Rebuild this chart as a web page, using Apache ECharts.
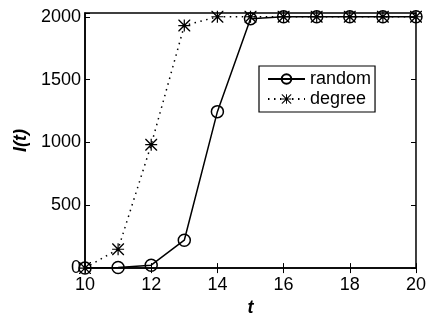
<!DOCTYPE html>
<html><head><meta charset="utf-8">
<script src="https://cdn.jsdelivr.net/npm/echarts@6/dist/echarts.min.js"></script>
<style>html,body{margin:0;padding:0;background:#fff}#c{width:429px;height:322px}</style>
</head><body><div id="c"></div>
<script>
const tValues = [10, 11, 12, 13, 14, 15, 16, 17, 18, 19, 20];
const randomValues = [0, 5, 23, 222, 1245, 1985, 2000, 2000, 2000, 2000, 2000];
const degreeValues = [0, 150, 982, 1930, 2000, 2000, 2000, 2000, 2000, 2000, 2000];
const seriesNames = ['random', 'degree'];

const star = 'path://M45 0L55 0L55 100L45 100Z M0 45L100 45L100 55L0 55Z M0 0L8 0L100 92L100 100L92 100L0 8Z M100 0L100 8L8 100L0 100L0 92L92 0Z';
const font = 'Liberation Sans, Arial, Helvetica, sans-serif';
const chart = echarts.init(document.getElementById('c'), null, {renderer: 'canvas'});
const pair = a => tValues.map((t, i) => [t, a[i]]);
const tickStyle = {show: true, inside: true, length: 5, lineStyle: {color: '#000', width: 1}};
chart.setOption({
  animation: false,
  backgroundColor: '#fff',
  grid: {left: 85, top: 13, right: 6, bottom: 45, show: true, borderColor: '#000', borderWidth: 1.5, backgroundColor: 'transparent'},
  legend: {
    orient: 'vertical', left: 259, top: 66, padding: [4, 4, 4, 8], itemGap: 2,
    borderColor: '#000', borderWidth: 1.2, backgroundColor: '#fff',
    itemWidth: 37, itemHeight: 12,
    textStyle: {fontFamily: font, fontSize: 18, color: '#000'},
    data: seriesNames
  },
  xAxis: [{
    type: 'value', min: 10, max: 20, interval: 2, position: 'bottom',
    name: 't', nameLocation: 'middle', nameGap: 24,
    nameTextStyle: {fontFamily: font, fontSize: 18, fontStyle: 'italic', fontWeight: 'bold', color: '#000'},
    axisLine: {show: true, lineStyle: {color: '#000', width: 1.5}},
    axisTick: tickStyle, splitLine: {show: false},
    axisLabel: {fontFamily: font, fontSize: 18, color: '#000', margin: 8}
  }, {
    type: 'value', min: 10, max: 20, interval: 2, position: 'top',
    axisLine: {show: false}, axisTick: tickStyle, axisLabel: {show: false}, splitLine: {show: false}
  }],
  yAxis: [{
    type: 'value', min: 0, max: 2030, interval: 500, position: 'left',
    name: 'I(t)', nameLocation: 'middle', nameGap: 48,
    nameTextStyle: {fontFamily: font, fontSize: 18, fontStyle: 'italic', fontWeight: 'bold', color: '#000'},
    axisLine: {show: true, lineStyle: {color: '#000', width: 1.5}},
    axisTick: tickStyle, splitLine: {show: false},
    axisLabel: {fontFamily: font, fontSize: 18, color: '#000', margin: 4,
      formatter: v => (v % 500 === 0 ? String(v) : '')}
  }, {
    type: 'value', min: 0, max: 2030, interval: 500, position: 'right',
    axisLine: {show: false}, axisTick: tickStyle, axisLabel: {show: false}, splitLine: {show: false}
  }],
  series: [{
    name: seriesNames[0], type: 'line', data: pair(randomValues),
    symbol: 'circle', symbolSize: 12, showAllSymbol: true,
    lineStyle: {color: '#000', width: 1.5, type: 'solid'},
    itemStyle: {color: 'rgba(255,255,255,0)', borderColor: '#000', borderWidth: 1.5}, z: 3
  }, {
    name: seriesNames[1], type: 'line', data: pair(degreeValues),
    symbol: star, symbolSize: 12, showAllSymbol: true,
    lineStyle: {color: '#000', width: 1.5, type: [1.5, 4.5]},
    itemStyle: {color: '#000', borderWidth: 0}, z: 4
  }]
});
</script></body></html>
